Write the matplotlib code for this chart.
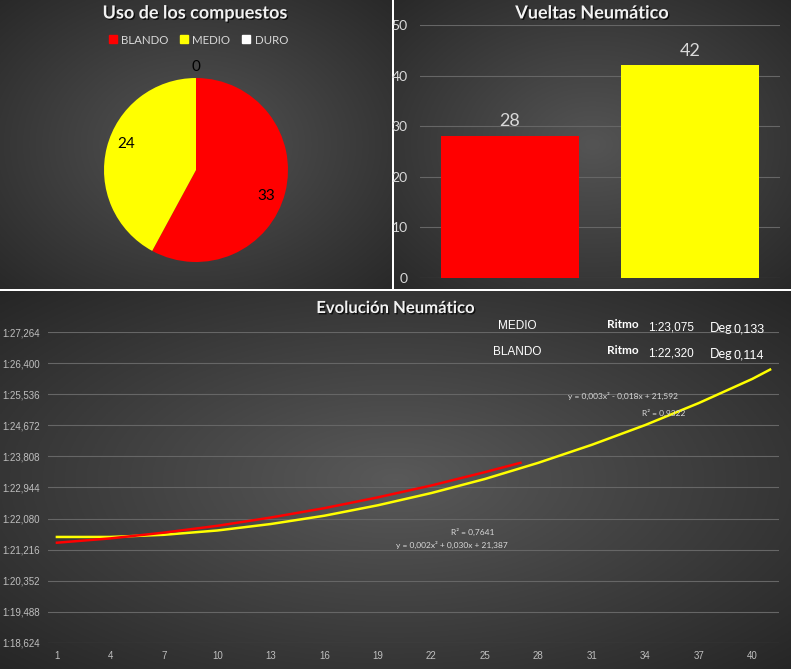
import matplotlib
matplotlib.use("Agg")
import matplotlib.pyplot as plt
import matplotlib.patheffects as pe
import numpy as np
from matplotlib.lines import Line2D

W, H = 791, 669

# --- data -----------------------------------------------------------------
compounds = ["BLANDO", "MEDIO", "DURO"]
compound_use = [33, 24, 0]
compound_colors = ["#ff0000", "#ffff00", "#ffffff"]

stint_laps = [28, 42]
stint_colors = ["#ff0000", "#ffff00"]

# lap times in seconds
medio_laps = [1, 4, 7, 10, 13, 16, 19, 22, 25, 28, 31, 34, 37, 40, 41]
medio_time = [81.57, 81.57, 81.63, 81.75, 81.93, 82.16, 82.45, 82.79,
              83.18, 83.63, 84.13, 84.68, 85.29, 85.96, 86.22]
blando_laps = [1, 4, 7, 10, 13, 16, 19, 22, 25, 27]
blando_time = [81.41, 81.53, 81.69, 81.88, 82.11, 82.37, 82.67, 83.00, 83.37, 83.63]

lap_ticks = list(range(1, 41, 3))
time_ticks = [round(78.624 + 0.864 * i, 3) for i in range(11)]

pace_rows = [("MEDIO", "1:23,075", "0,133"), ("BLANDO", "1:22,320", "0,114")]
medio_fit = ("y = 0,003x² - 0,018x + 21,592", "R² = 0,9322")
blando_fit = ("R² = 0,7641", "y = 0,002x² + 0,030x + 21,387")

TXT = "#d9d9d9"
GRID = "#666666"
NARROW = ["Liberation Sans", "DejaVu Sans"]
plt.rcParams["font.family"] = ["Lato", "DejaVu Sans"]


def fx(x):
    return x / W


def fy(y):
    return 1 - y / H


def box(x0, y0, w, h):
    return [x0 / W, 1 - (y0 + h) / H, w / W, h / H]


def panel_bg(fig, x0, y0, w, h, center=0.35, edge=0.15):
    ax = fig.add_axes(box(x0, y0, w, h), zorder=0)
    yy, xx = np.mgrid[-1:1:200j, -1:1:300j]
    r = np.sqrt(xx ** 2 + yy ** 2) / np.sqrt(2)
    g = center + (edge - center) * r
    ax.imshow(np.dstack([g, g, g]), aspect="auto", extent=(0, 1, 0, 1))
    ax.axis("off")
    return ax


def title(fig, x, y, s, size):
    fig.text(fx(x), fy(y), s, ha="center", va="center", fontsize=size,
             fontweight="bold", color="#f2f2f2", zorder=10,
             path_effects=[pe.withSimplePatchShadow(offset=(1, -1), shadow_rgbFace="black", alpha=0.7)])


def time_fmt(v, pos=None):
    m = int(v // 60)
    return f"{m}:{v - 60 * m:06.3f}".replace(".", ",")


def note(x, y, s, size, **kw):
    fig.text(fx(x), fy(y), s, ha="center", va="center", fontsize=size, zorder=10, **kw)


fig = plt.figure(figsize=(W / 100, H / 100), dpi=100, facecolor="white")
panel_bg(fig, 0, 0, 392, 289, 0.33, 0.16)
panel_bg(fig, 394, 0, 397, 289, 0.33, 0.16)
panel_bg(fig, 0, 291, 791, 378, 0.35, 0.15)

# --- pie ------------------------------------------------------------------
axp = fig.add_axes(box(104, 78, 184, 184), zorder=2)
axp.set_facecolor("none")
wedges, _ = axp.pie(compound_use, colors=compound_colors, startangle=90,
                    counterclock=False, radius=1, wedgeprops=dict(linewidth=0))
for w, v in zip(wedges, compound_use):
    a = np.deg2rad((w.theta1 + w.theta2) / 2 - (6 if v else 0))
    r = 0.81 if v else 1.12
    axp.text(r * np.cos(a), r * np.sin(a), str(v), ha="center", va="center",
             fontsize=11, color="black")
axp.set_xlim(-1, 1); axp.set_ylim(-1, 1)
title(fig, 195, 13, "Uso de los compuestos", 13)
handles = [Line2D([], [], marker="s", ls="", color=c, markersize=5.5, label=n)
           for n, c in zip(compounds, compound_colors)]
fig.legend(handles=handles, loc="center", bbox_to_anchor=(fx(198), fy(40)), ncol=3,
           frameon=False, handletextpad=0.3, columnspacing=1.0, handlelength=0.8,
           labelcolor=TXT, fontsize=8.3)

# --- bars -----------------------------------------------------------------
axb = fig.add_axes(box(420, 25, 360, 253), zorder=2)
axb.set_facecolor("none")
bars = axb.bar(range(len(stint_laps)), stint_laps, width=0.77, color=stint_colors, zorder=3)
axb.bar_label(bars, padding=5, fontsize=13, color=TXT)
axb.set_xlim(-0.5, 1.5); axb.set_ylim(0, 50)
axb.set_yticks(range(0, 51, 10)); axb.set_xticks([])
axb.grid(axis="y", color=GRID, lw=0.8)
axb.tick_params(axis="y", length=0, pad=9, labelcolor=TXT, labelsize=10)
for s in axb.spines.values():
    s.set_visible(False)
title(fig, 592, 13, "Vueltas Neumático", 13)

# --- lap time evolution ---------------------------------------------------
axl = fig.add_axes(box(48, 332, 731, 311), zorder=2)
axl.set_facecolor("none")
axl.plot(medio_laps, medio_time, color="#ffff00", lw=1.8, zorder=3)
axl.plot(blando_laps, blando_time, color="#ff0000", lw=1.8, zorder=4)
axl.set_xlim(0.5, 41.5); axl.set_ylim(time_ticks[0], time_ticks[-1])
axl.set_xticks(lap_ticks); axl.set_yticks(time_ticks)
axl.yaxis.set_major_formatter(plt.FuncFormatter(time_fmt))
axl.grid(axis="y", color=GRID, lw=0.8)
axl.tick_params(length=0, labelcolor="#bfbfbf", labelsize=7)
axl.tick_params(axis="y", pad=6)
axl.tick_params(axis="x", pad=6)
for lab in axl.get_xticklabels() + axl.get_yticklabels():
    lab.set_family(NARROW)
for s in axl.spines.values():
    s.set_visible(False)
title(fig, 395, 308, "Evolución Neumático", 12)

for (name, pace, deg), y in zip(pace_rows, [326, 352]):
    note(517, y, name, 8.5, color="white", family=NARROW)
    note(623, y - 1, "Ritmo", 8.5, color="white", fontweight="bold")
    note(671, y + 1, pace, 8.5, color="white", family=NARROW)
    note(721, y + 2, "Deg", 9, color="white")
    note(749, y + 3, deg, 9, color="white", family=NARROW)

note(623, 396, medio_fit[0], 6, color=TXT)
note(664, 413, medio_fit[1], 6, color=TXT)
note(473, 532, blando_fit[0], 6, color=TXT)
note(452, 545, blando_fit[1], 6, color=TXT)

fig.savefig("out.png", dpi=100)
